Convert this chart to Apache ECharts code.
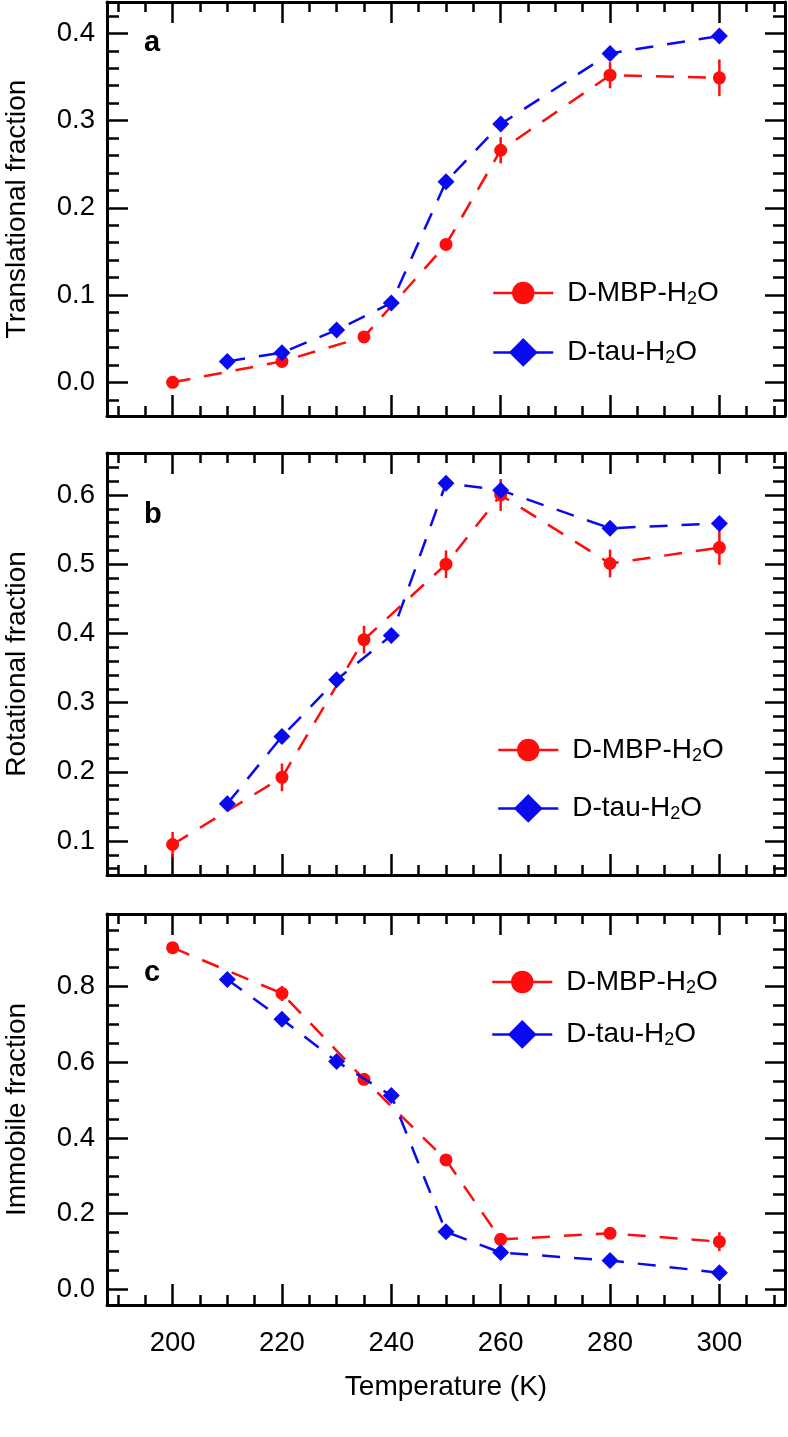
<!DOCTYPE html>
<html><head><meta charset="utf-8">
<script src="https://cdn.jsdelivr.net/npm/echarts@6/dist/echarts.min.js"></script>
<style>html,body{margin:0;padding:0;background:#fff}#c{width:788px;height:1437px}</style>
</head><body><div id="c"></div>
<script>
// ---------- data ----------
const tempMBP = [200, 220, 235, 250, 260, 280, 300];
const tempTau = [210, 220, 230, 240, 250, 260, 280, 300];

const transMBP    = [0.000, 0.024, 0.052, 0.158, 0.266, 0.352, 0.349];
const transMBPErr = [0.003, 0.004, 0.005, 0.006, 0.015, 0.015, 0.021];
const transTau    = [0.024, 0.034, 0.060, 0.091, 0.230, 0.296, 0.377, 0.397];

const rotMBP    = [0.095, 0.192, 0.391, 0.500, 0.600, 0.501, 0.524];
const rotMBPErr = [0.018, 0.020, 0.020, 0.020, 0.023, 0.020, 0.025];
const rotTau    = [0.154, 0.251, 0.333, 0.397, 0.617, 0.607, 0.552, 0.559];

const immMBP    = [0.903, 0.782, 0.555, 0.342, 0.132, 0.148, 0.126];
const immMBPErr = [0.010, 0.020, 0.010, 0.010, 0.015, 0.010, 0.025];
const immTau    = [0.819, 0.714, 0.602, 0.512, 0.152, 0.097, 0.076, 0.044];

const seriesNames = ['D-MBP-H2O', 'D-tau-H2O'];
const panelLetters = ['a', 'b', 'c'];
const yNames = ['Translational fraction', 'Rotational fraction', 'Immobile fraction'];
const xName = 'Temperature (K)';

const xMajor = [200, 220, 240, 260, 280, 300];
const xMinor = [190, 195, 205, 210, 215, 225, 230, 235, 245, 250, 255, 265, 270, 275, 285, 290, 295, 305, 310];

const yMajorA = [0.0, 0.1, 0.2, 0.3, 0.4];
const yMinorA = [-0.02, 0.02, 0.04, 0.06, 0.08, 0.12, 0.14, 0.16, 0.18, 0.22, 0.24, 0.26, 0.28, 0.32, 0.34, 0.36, 0.38, 0.42];
const yMajorB = [0.1, 0.2, 0.3, 0.4, 0.5, 0.6];
const yMinorB = [0.06, 0.08, 0.12, 0.14, 0.16, 0.18, 0.22, 0.24, 0.26, 0.28, 0.32, 0.34, 0.36, 0.38, 0.42, 0.44, 0.46, 0.48, 0.52, 0.54, 0.56, 0.58, 0.62, 0.64, 0.66];
const yMajorC = [0.0, 0.2, 0.4, 0.6, 0.8];
const yMinorC = [0.05, 0.1, 0.15, 0.25, 0.3, 0.35, 0.45, 0.5, 0.55, 0.65, 0.7, 0.75, 0.85, 0.9, 0.95];

// ---------- layout / style ----------
const RED = '#ff0d0d', BLUE = '#0a0af0';
const FONT = '"Liberation Sans", Arial, Helvetica, sans-serif';
const X_MIN = 188, X_MAX = 312;
const panels = [
  { top: 2,   height: 414, ymin: -0.0386, ymax: 0.4359, major: yMajorA, minor: yMinorA, mbp: transMBP, err: transMBPErr, tau: transTau,
    legLeft: 492, legTop: [279, 338], titleTop: 28 },
  { top: 453, height: 422, ymin: 0.0509,  ymax: 0.6607, major: yMajorB, minor: yMinorB, mbp: rotMBP, err: rotMBPErr, tau: rotTau,
    legLeft: 497, legTop: [736, 794], titleTop: 500 },
  { top: 914, height: 391, ymin: -0.0415, ymax: 0.992,  major: yMajorC, minor: yMinorC, mbp: immMBP, err: immMBPErr, tau: immTau,
    legLeft: 491, legTop: [968, 1020], titleTop: 958 }
];

const grids = [], xAxes = [], yAxes = [], series = [], legends = [], titles = [];

function xAx(g, pos, ticks, len, showLine, label) {
  const a = {
    type: 'value', gridIndex: g, position: pos, min: X_MIN, max: X_MAX,
    splitLine: { show: false },
    axisLine: { show: showLine, onZero: false, lineStyle: { color: '#000', width: 3 } },
    axisTick: { show: true, inside: true, length: len, customValues: ticks, lineStyle: { color: '#000', width: 2.5 } },
    axisLabel: { show: false }
  };
  if (label) {
    a.axisLabel = { show: true, customValues: xMajor, margin: 24, color: '#000', fontSize: 27.5, fontFamily: FONT };
    a.name = xName; a.nameLocation = 'middle'; a.nameGap = 68;
    a.nameTextStyle = { color: '#000', fontSize: 28, fontFamily: FONT };
  }
  xAxes.push(a);
  return xAxes.length - 1;
}
function yAx(g, pos, p, ticks, len, showLine, label, name) {
  const a = {
    type: 'value', gridIndex: g, position: pos, min: p.ymin, max: p.ymax,
    splitLine: { show: false },
    axisLine: { show: showLine, onZero: false, lineStyle: { color: '#000', width: 3 } },
    axisTick: { show: true, inside: true, length: len, customValues: ticks, lineStyle: { color: '#000', width: 2.5 } },
    axisLabel: { show: false }
  };
  if (label) {
    a.axisLabel = { show: true, customValues: p.major, margin: 12, color: '#000', fontSize: 27.5, fontFamily: FONT,
      formatter: v => v.toFixed(1) };
    a.name = name; a.nameLocation = 'middle'; a.nameGap = 76;
    a.nameTextStyle = { color: '#000', fontSize: 28, fontFamily: FONT };
  }
  yAxes.push(a);
  return yAxes.length - 1;
}

const rich = {
  a: { fontSize: 28, fontFamily: FONT, color: '#000', lineHeight: 30, padding: [0, 0, 0, 9] },
  t: { fontSize: 28, fontFamily: FONT, color: '#000', lineHeight: 30 },
  s: { fontSize: 18, fontFamily: FONT, color: '#000', lineHeight: 14, verticalAlign: 'bottom' }
};
function legendFmt(name) {
  return name === 'D-MBP-H2O' ? '{a|D-MBP-H}{s|2}{t|O}' : '{a|D-tau-H}{s|2}{t|O}';
}

panels.forEach((p, g) => {
  grids.push({ left: 107, width: 678, top: p.top, height: p.height, containLabel: false, outerBoundsMode: 'none' });
  const xb = xAx(g, 'bottom', xMajor, 21, true, g === 2);
  xAx(g, 'bottom', xMinor, 10, false, false);
  xAx(g, 'top', xMajor, 21, true, false);
  xAx(g, 'top', xMinor, 10, false, false);
  const yl = yAx(g, 'left', p, p.major, 21, true, true, yNames[g]);
  yAx(g, 'left', p, p.minor, 12, false, false);
  yAx(g, 'right', p, p.major, 20, true, false);
  yAx(g, 'right', p, p.minor, 12, false, false);

  const mbpData = tempMBP.map((t, i) => [t, p.mbp[i]]);
  const errData = tempMBP.map((t, i) => [t, p.mbp[i], p.err[i]]);
  const tauData = tempTau.map((t, i) => [t, p.tau[i]]);

  series.push({
    type: 'custom', name: 'err' + g, xAxisIndex: xb, yAxisIndex: yl, data: errData, z: 3,
    renderItem: (params, api) => {
      const x = api.value(0), y = api.value(1), e = api.value(2);
      const p1 = api.coord([x, y - e]), p2 = api.coord([x, y + e]);
      return { type: 'line', shape: { x1: p1[0], y1: p1[1], x2: p2[0], y2: p2[1] },
        style: { stroke: RED, lineWidth: 2.5 } };
    }
  });
  series.push({
    type: 'line', name: seriesNames[0], xAxisIndex: xb, yAxisIndex: yl, data: mbpData, z: 4,
    symbol: 'circle', symbolSize: 13, showAllSymbol: true,
    lineStyle: { color: RED, width: 2.5, type: [18, 14] }, itemStyle: { color: RED }
  });
  series.push({
    type: 'line', name: seriesNames[1], xAxisIndex: xb, yAxisIndex: yl, data: tauData, z: 5,
    symbol: 'diamond', symbolSize: 17, showAllSymbol: true,
    lineStyle: { color: BLUE, width: 2.5, type: [18, 14] }, itemStyle: { color: BLUE }
  });

  legends.push({
    data: [seriesNames[0]], left: p.legLeft, top: p.legTop[0], padding: 0, orient: 'vertical',
    itemWidth: 60, itemHeight: 28, selectedMode: false, formatter: legendFmt,
    lineStyle: { type: 'solid', width: 2.5 }, textStyle: { rich: rich }
  });
  legends.push({
    data: [seriesNames[1]], left: p.legLeft, top: p.legTop[1], padding: 0, orient: 'vertical',
    itemWidth: 60, itemHeight: 36, selectedMode: false, formatter: legendFmt,
    lineStyle: { type: 'solid', width: 2.5 }, textStyle: { rich: rich }
  });

  titles.push({ text: panelLetters[g], left: 144, top: p.titleTop, padding: 0,
    textStyle: { fontSize: 29, fontWeight: 'bold', color: '#000', fontFamily: FONT } });
});

const chart = echarts.init(document.getElementById('c'), null, { renderer: 'canvas' });
chart.setOption({
  animation: false,
  backgroundColor: '#fff',
  title: titles,
  grid: grids,
  xAxis: xAxes,
  yAxis: yAxes,
  legend: legends,
  series: series
});
</script>
</body></html>
